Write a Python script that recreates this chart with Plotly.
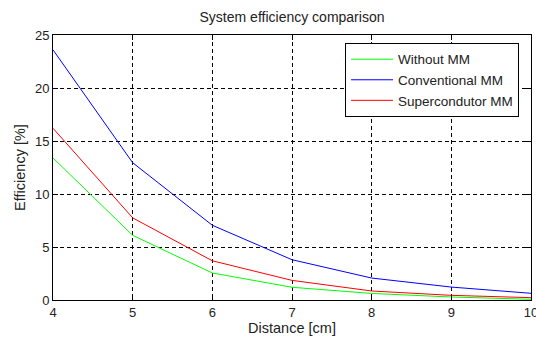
import plotly.graph_objects as go

distance = [4, 5, 6, 7, 8, 9, 10]
without_mm = [13.4, 6.1, 2.55, 1.2, 0.62, 0.28, 0.07]
conventional_mm = [23.6, 12.95, 7.05, 3.8, 2.07, 1.22, 0.63]
supercond_mm = [16.2, 7.75, 3.7, 1.85, 0.85, 0.44, 0.22]

x_ticks = [4, 5, 6, 7, 8, 9, 10]
y_ticks = [0, 5, 10, 15, 20, 25]

FONT = "Liberation Sans, Arial, sans-serif"
TXT = "#222222"

W, H = 536, 344

fig = go.Figure()
fig.add_trace(go.Scatter(x=distance, y=without_mm, mode="lines", name="Without MM",
                         line=dict(color="#00ff00", width=1)))
fig.add_trace(go.Scatter(x=distance, y=conventional_mm, mode="lines", name="Conventional MM",
                         line=dict(color="#0000ff", width=1)))
fig.add_trace(go.Scatter(x=distance, y=supercond_mm, mode="lines", name="Supercondutor MM",
                         line=dict(color="#ff0000", width=1)))

axis_common = dict(
    showline=True, linecolor="black", linewidth=1, mirror="ticks",
    ticks="inside", ticklen=5, tickcolor="black",
    showgrid=True, gridcolor="black", griddash="4px,3px", gridwidth=1,
    zeroline=False, tickfont=dict(family=FONT, size=13, color=TXT),
    ticklabeloverflow="allow", automargin=False,
)

fig.update_layout(
    template="none",
    width=W, height=H,
    margin=dict(l=53, r=5, t=35, b=44, autoexpand=False),
    paper_bgcolor="white", plot_bgcolor="white",
    font=dict(family=FONT, size=12, color=TXT),
    title=dict(text="System efficiency comparison", x=(53 + 239) / W, xanchor="center",
               y=1 - 17 / H, yanchor="middle", font=dict(family=FONT, size=14, color=TXT)),
    xaxis=dict(range=[4, 10], tickvals=x_ticks, title=dict(text="Distance [cm]", standoff=3,
               font=dict(family=FONT, size=14.5, color=TXT)), **axis_common),
    yaxis=dict(range=[0, 25], tickvals=y_ticks, title=dict(text="Efficiency [%]", standoff=5,
               font=dict(family=FONT, size=14.5, color=TXT)), **axis_common),
    legend=dict(x=0.611, y=0.97, xanchor="left", yanchor="top", bgcolor="white",
                bordercolor="black", borderwidth=1, font=dict(family=FONT, size=13.5, color=TXT),
                tracegroupgap=0, itemwidth=42),
    showlegend=True,
)

fig.write_html("out.html", config={"displayModeBar": False},
               post_script="document.body.style.margin='0';document.body.style.overflow='hidden';")
